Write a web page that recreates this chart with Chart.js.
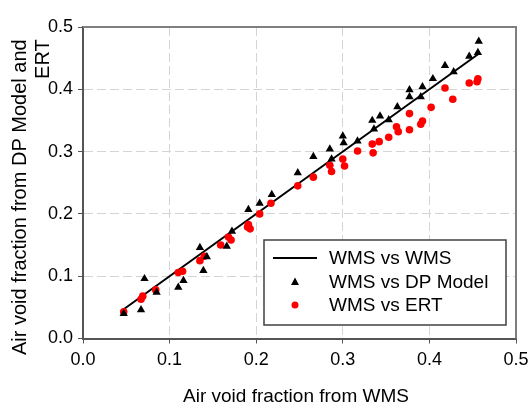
<!DOCTYPE html>
<html>
<head>
<meta charset="utf-8">
<script src="https://cdn.jsdelivr.net/npm/chart.js@4"></script>
<style>
  html, body { margin: 0; padding: 0; background: #fff; }
  #wrap { width: 529px; height: 408px; }
</style>
</head>
<body>
<div id="wrap"><canvas id="c" width="529" height="408"></canvas></div>
<script>
// WMS vs WMS reference line
const lineX = [0.045, 0.457];
const lineY = [0.045, 0.457];

// WMS vs DP Model
const dpX = [0.047, 0.067, 0.071, 0.085, 0.110, 0.116, 0.135, 0.139, 0.143, 0.166,
             0.172, 0.191, 0.204, 0.218, 0.248, 0.266, 0.285, 0.287, 0.300, 0.301,
             0.317, 0.334, 0.336, 0.343, 0.353, 0.363, 0.377, 0.377, 0.390, 0.392,
             0.404, 0.418, 0.428, 0.446, 0.456, 0.457];
const dpY = [0.040, 0.046, 0.096, 0.074, 0.082, 0.093, 0.146, 0.109, 0.131, 0.148,
             0.172, 0.207, 0.217, 0.231, 0.266, 0.292, 0.304, 0.288, 0.325, 0.314,
             0.317, 0.350, 0.336, 0.357, 0.351, 0.372, 0.399, 0.388, 0.388, 0.404,
             0.417, 0.438, 0.428, 0.453, 0.459, 0.477];

// WMS vs ERT
const ertX = [0.047, 0.067, 0.069, 0.084, 0.110, 0.115, 0.135, 0.140, 0.159, 0.168,
              0.171, 0.190, 0.193, 0.191, 0.204, 0.217, 0.248, 0.266, 0.285, 0.287,
              0.300, 0.302, 0.317, 0.334, 0.335, 0.342, 0.353, 0.362, 0.364, 0.377,
              0.377, 0.390, 0.392, 0.402, 0.418, 0.427, 0.446, 0.455, 0.456];
const ertY = [0.043, 0.063, 0.068, 0.078, 0.106, 0.108, 0.125, 0.132, 0.150, 0.163,
              0.158, 0.179, 0.176, 0.183, 0.200, 0.217, 0.245, 0.259, 0.278, 0.268,
              0.288, 0.277, 0.301, 0.312, 0.298, 0.316, 0.323, 0.340, 0.332, 0.361,
              0.335, 0.344, 0.349, 0.371, 0.402, 0.384, 0.410, 0.412, 0.417];

const xTitle = 'Air void fraction from WMS';
const yTitleLines = ['Air void fraction from DP Model and', 'ERT'];
const legendLabels = ['WMS vs WMS', 'WMS vs DP Model', 'WMS vs ERT'];

const FONT = "'Liberation Sans', Arial, sans-serif";
const toPts = (xs, ys) => xs.map((x, i) => ({ x, y: ys[i] }));

// frame (top/right), titles and the boxed legend
const decor = {
    id: 'decor',
    afterDraw(chart) {
        const { ctx, chartArea: a } = chart;
        ctx.save();
        ctx.strokeStyle = '#7f7f7f';
        ctx.lineWidth = 2;
        ctx.beginPath();
        ctx.moveTo(a.left, a.top);
        ctx.lineTo(a.right, a.top);
        ctx.lineTo(a.right, a.bottom);
        ctx.stroke();

        ctx.fillStyle = '#000';
        ctx.font = '19px ' + FONT;
        ctx.textAlign = 'center';
        ctx.textBaseline = 'middle';
        ctx.fillText(xTitle, 296, 397);

        // y title: two lines, rotated, ending at the same top
        ctx.save();
        ctx.font = '20px ' + FONT;
        ctx.translate(20, 355);
        ctx.rotate(-Math.PI / 2);
        ctx.textAlign = 'left';
        ctx.fillText(yTitleLines[0], 0, 0);
        const w = ctx.measureText(yTitleLines[0]).width;
        ctx.textAlign = 'right';
        ctx.fillText(yTitleLines[1], w, 23);
        ctx.restore();

        // legend
        const lx = 264, ly = 240, lw = 242, lh = 85;
        ctx.fillStyle = '#fff';
        ctx.fillRect(lx, ly, lw, lh);
        ctx.strokeStyle = '#404040';
        ctx.lineWidth = 1.5;
        ctx.strokeRect(lx, ly, lw, lh);

        const rows = [258, 282, 305];
        ctx.strokeStyle = '#000';
        ctx.lineWidth = 2;
        ctx.beginPath();
        ctx.moveTo(273, rows[0]);
        ctx.lineTo(317, rows[0]);
        ctx.stroke();

        ctx.fillStyle = '#000';
        ctx.beginPath();
        ctx.moveTo(295, rows[1] - 4.5);
        ctx.lineTo(299, rows[1] + 3);
        ctx.lineTo(291, rows[1] + 3);
        ctx.closePath();
        ctx.fill();

        ctx.fillStyle = '#ff0000';
        ctx.beginPath();
        ctx.arc(295, rows[2], 3.5, 0, Math.PI * 2);
        ctx.fill();

        ctx.fillStyle = '#000';
        ctx.font = '19px ' + FONT;
        ctx.textAlign = 'left';
        legendLabels.forEach((t, i) => ctx.fillText(t, 329, rows[i] + 1));
        ctx.restore();
    }
};

new Chart(document.getElementById('c'), {
    type: 'scatter',
    data: {
        datasets: [
            {
                label: legendLabels[1],
                data: toPts(dpX, dpY),
                pointStyle: 'triangle',
                pointRadius: 4.8,
                backgroundColor: '#000',
                borderColor: '#000',
                borderWidth: 0
            },
            {
                label: legendLabels[2],
                data: toPts(ertX, ertY),
                pointStyle: 'circle',
                pointRadius: 3.8,
                backgroundColor: '#ff0000',
                borderColor: '#ff0000',
                borderWidth: 0
            },
            {
                label: legendLabels[0],
                type: 'line',
                data: toPts(lineX, lineY),
                borderColor: '#000',
                borderWidth: 2,
                pointRadius: 0,
                fill: false
            }
        ]
    },
    options: {
        responsive: false,
        animation: false,
        layout: { padding: { top: 27, right: 13, left: 0, bottom: 0 } },
        plugins: { legend: { display: false }, tooltip: { enabled: false } },
        scales: {
            x: {
                type: 'linear',
                min: 0, max: 0.5,
                afterFit: s => { s.height = 69.5; s.paddingLeft = 0; s.paddingRight = 0; },
                ticks: {
                    stepSize: 0.1,
                    color: '#000',
                    font: { family: FONT, size: 18 },
                    padding: 6,
                    maxRotation: 0,
                    callback: v => v.toFixed(1)
                },
                grid: { color: '#d4d4d4', lineWidth: 1, tickColor: '#555', tickLength: 5 },
                border: { display: true, color: '#555', width: 2, dash: [9, 4] }
            },
            y: {
                type: 'linear',
                min: 0, max: 0.5,
                afterFit: s => { s.width = 83; s.paddingTop = 0; s.paddingBottom = 0; },
                ticks: {
                    stepSize: 0.1,
                    color: '#000',
                    font: { family: FONT, size: 18 },
                    padding: 5,
                    callback: v => v.toFixed(1)
                },
                grid: { color: '#d4d4d4', lineWidth: 1, tickColor: '#555', tickLength: 5 },
                border: { display: true, color: '#555', width: 2, dash: [9, 4] }
            }
        }
    },
    plugins: [decor]
});
</script>
</body>
</html>
